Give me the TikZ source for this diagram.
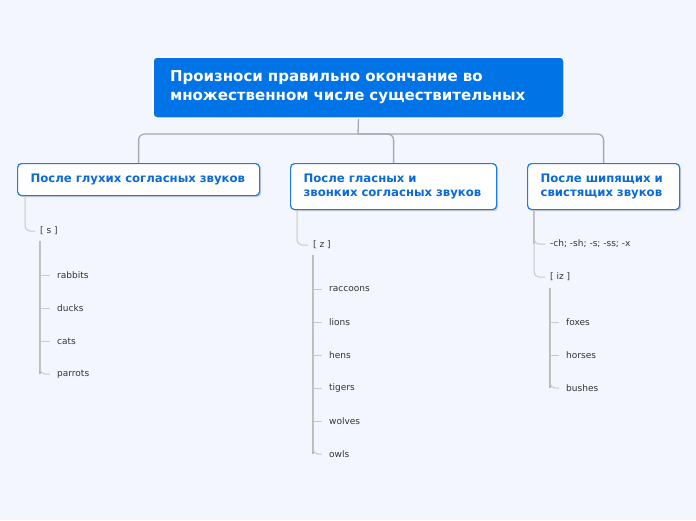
\documentclass[tikz,border=0pt]{standalone}
\usepackage{fontspec}
\setmainfont{DejaVu Sans}
\usetikzlibrary{calc,shadows}
\definecolor{bgc}{HTML}{F3F6FE}
\definecolor{rootc}{HTML}{0073E6}
\definecolor{boxb}{HTML}{1C7CE0}
\definecolor{boxt}{HTML}{0A6AD6}
\definecolor{linec}{HTML}{A9A9A9}
\definecolor{subc}{HTML}{C8C8C8}
\definecolor{subvc}{HTML}{B8B8B8}
\definecolor{leafc}{HTML}{333333}
\tikzset{
  rootbox/.style={draw=white, line width=1.5pt, fill=rootc, rounded corners=4pt,
    text=white, font=\bfseries\fontsize{15}{19}\selectfont, align=left,
    minimum width=411pt, minimum height=61pt, text width=377pt, inner xsep=17pt,
    drop shadow={shadow xshift=1pt, shadow yshift=-1pt, opacity=0.25}},
  catbox/.style={draw=boxb, line width=1.2pt, fill=white, rounded corners=4pt,
    text=boxt, font=\bfseries\fontsize{11.7}{14}\selectfont, align=left,
    inner xsep=13pt, anchor=north west,
    drop shadow={shadow xshift=1.5pt, shadow yshift=-1.5pt, opacity=0.35}},
  conn/.style={draw=linec, line width=1.3pt, rounded corners=6pt},
  sub/.style={draw=subc, line width=1pt, rounded corners=5pt},
  subv/.style={draw=subvc, line width=1.5pt},
  leaf/.style={text=leafc, font=\fontsize{9}{11}\selectfont, inner sep=0pt, anchor=west},
}
\begin{document}
\begin{tikzpicture}[x=1pt,y=-1pt]
\fill[bgc] (0,0) rectangle (696,520);
\useasboundingbox (0,0) rectangle (696,520);

\node[rootbox] (root) at (358.5,87.5) {Произноси правильно окончание во\\множественном числе существительных};

\node[catbox, minimum width=242pt, minimum height=32pt, text width=216pt] (b1) at (17,163) {После глухих согласных звуков};
\node[catbox, minimum width=206pt, minimum height=46pt, text width=180pt] (b2) at (290,163) {После гласных и\\звонких согласных звуков};
\node[catbox, minimum width=152pt, minimum height=46pt, text width=126pt] (b3) at (527,163) {После шипящих и\\свистящих звуков};

\coordinate (hub) at (358,134);
\draw[conn] (root.south) -- (hub);
\draw[conn] (b1.north) |- (hub) -| (b3.north);
\draw[conn] (hub) -| (b2.north);

% column 1
\node[leaf] (s) at (40,231) {[ s ]};
\draw[sub] ([xshift=8pt]b1.south west) |- ([xshift=-5pt]s.west);
\coordinate (v1) at (40,241);
\node[leaf] (l11) at (57,275) {rabbits};
\node[leaf] (l12) at (57,308) {ducks};
\node[leaf] (l13) at (57,341) {cats};
\node[leaf] (l14) at (57,374) {parrots};
\draw[subv] (v1) -- (v1 |- l14);
\draw[sub] (v1) |- ([xshift=-7pt]l14.west);
\foreach \n in {l11,l12,l13} \draw[sub] (v1 |- \n) -- ([xshift=-7pt]\n.west);

% column 2
\node[leaf] (z) at (313,245) {[ z ]};
\draw[sub] ([xshift=7pt]b2.south west) |- ([xshift=-5pt]z.west);
\coordinate (v2) at (313,255);
\node[leaf] (l21) at (329,289) {raccoons};
\node[leaf] (l22) at (329,322) {lions};
\node[leaf] (l23) at (329,355) {hens};
\node[leaf] (l24) at (329,388) {tigers};
\node[leaf] (l25) at (329,421) {wolves};
\node[leaf] (l26) at (329,454) {owls};
\draw[subv] (v2) -- (v2 |- l26);
\draw[sub] (v2) |- ([xshift=-7pt]l26.west);
\foreach \n in {l21,l22,l23,l24,l25} \draw[sub] (v2 |- \n) -- ([xshift=-7pt]\n.west);

% column 3
\node[leaf] (ends) at (550,244) {-ch; -sh; -s; -ss; -x};
\node[leaf] (iz) at (550,277) {[ iz ]};
\coordinate (v3t) at ([xshift=7pt]b3.south west);
\draw[subv] (v3t) -- (v3t |- ends);
\draw[sub] (v3t) |- ([xshift=-5pt]iz.west);
\draw[sub] (v3t) |- ([xshift=-5pt]ends.west);
\coordinate (v3) at (550,288);
\node[leaf] (l31) at (566,322) {foxes};
\node[leaf] (l32) at (566,355) {horses};
\node[leaf] (l33) at (566,388) {bushes};
\draw[subv] (v3) -- (v3 |- l33);
\draw[sub] (v3) |- ([xshift=-7pt]l33.west);
\foreach \n in {l31,l32} \draw[sub] (v3 |- \n) -- ([xshift=-7pt]\n.west);
\end{tikzpicture}
\end{document}
